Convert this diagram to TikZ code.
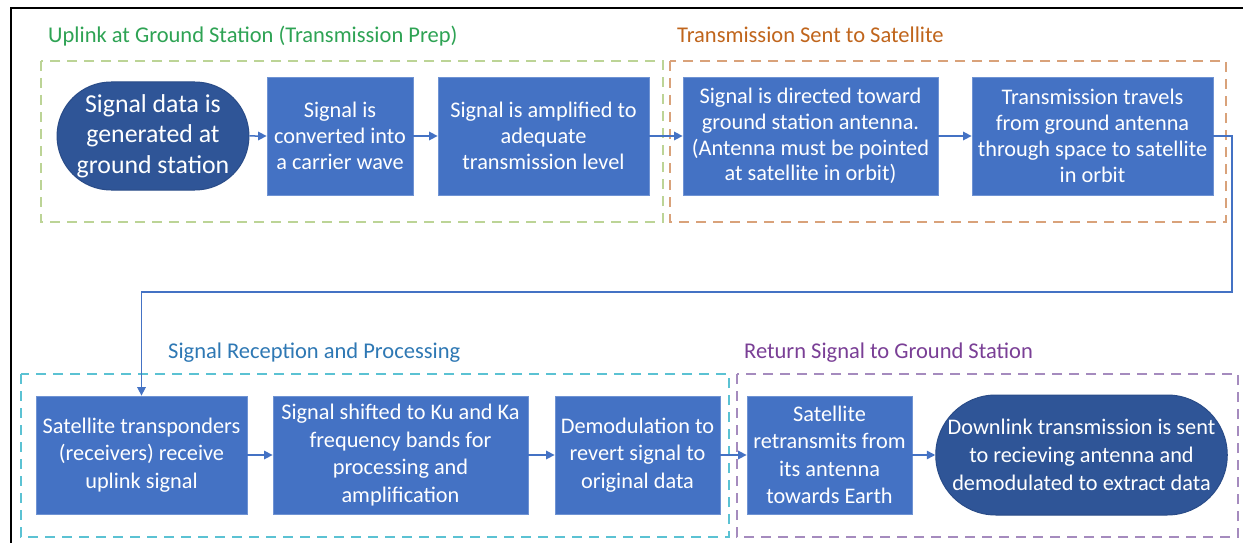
\documentclass[tikz,border=0pt]{standalone}
\usepackage{fontspec}
\setmainfont{Carlito}
\usetikzlibrary{shapes.misc,arrows.meta}
\definecolor{boxblue}{HTML}{4472C4}
\definecolor{boxedge}{HTML}{6F93D3}
\definecolor{termblue}{HTML}{2F5597}
\definecolor{termedge}{HTML}{2A4C88}
\definecolor{flowblue}{HTML}{4472C4}
\definecolor{grpgreen}{HTML}{BCD496}
\definecolor{grporange}{HTML}{D9A27A}
\definecolor{grpcyan}{HTML}{5BC2D3}
\definecolor{grppurple}{HTML}{A58BBE}
\definecolor{ttlgreen}{HTML}{2EA354}
\definecolor{ttlorange}{HTML}{C0651C}
\definecolor{ttlblue}{HTML}{2E78B4}
\definecolor{ttlpurple}{HTML}{7A3F96}
\tikzset{
  stepbox/.style={rectangle, draw=boxedge, line width=0.8pt, fill=boxblue,
    text=white, align=center, inner sep=0pt,
    font=\fontsize{22.3}{25.8}\selectfont},
  lowbox/.style={stepbox, font=\fontsize{22.3}{27.5}\selectfont},
  terminal/.style={rounded rectangle, draw=termedge, line width=1pt, fill=termblue,
    text=white, align=center, inner sep=0pt},
  flow/.style={draw=flowblue, line width=1.5pt,
    -{Triangle[length=8.5pt,width=8.5pt]}},
  group/.style={line width=1.5pt, dash pattern=on 10pt off 7pt},
  grouptitle/.style={anchor=base west, inner sep=0pt,
    font=\fontsize{22.5}{26}\selectfont}
}
\begin{document}
\begin{tikzpicture}[x=1pt,y=-1pt]
\useasboundingbox (0,0) rectangle (1243,543);
\fill[white] (0,0) rectangle (1243,543);
% page frame
\draw[line width=2.5pt] (11,560) -- (11,8) -- (1260,8);

% phase groups
\draw[group, draw=grpgreen]  (41,61)  rectangle (663,222);
\draw[group, draw=grporange] (670,61) rectangle (1226,222);
\draw[group, draw=grpcyan]   (21,374) rectangle (729,537);
\draw[group, draw=grppurple] (737,374) rectangle (1238,537);

\node[grouptitle, text=ttlgreen]  (t1) at (48,43)  {Uplink at Ground Station (Transmission Prep)};
\node[grouptitle, text=ttlorange] (t2) at (677,43) {Transmission Sent to Satellite};
\node[grouptitle, text=ttlblue]   (t3) at (168,358) {Signal Reception and Processing};
\node[grouptitle, text=ttlpurple] (t4) at (744,358) {Return Signal to Ground Station};

% top row
\node[terminal, minimum width=190pt, minimum height=108pt,
      font=\fontsize{25.8}{30.5}\selectfont] (b1) at (153,136)
  {Signal data is\\generated at\\ground station};
\node[stepbox, minimum width=146pt, minimum height=118pt] (b2) at (340,136)
  {Signal is\\converted into\\a carrier wave};
\node[stepbox, minimum width=211pt, minimum height=118pt] (b3) at (543.5,136)
  {Signal is amplified to\\adequate\\transmission level};
\node[stepbox, minimum width=255pt, minimum height=118pt] (b4) at (810.5,136)
  {Signal is directed toward\\ground station antenna.\\(Antenna must be pointed\\at satellite in orbit)};
\node[stepbox, minimum width=241pt, minimum height=118pt] (b5) at (1092.5,136)
  {Transmission travels\\from ground antenna\\through space to satellite\\in orbit};

% bottom row
\node[lowbox, minimum width=211pt, minimum height=118pt] (b6) at (141.5,455)
  {Satellite transponders\\(receivers) receive\\uplink signal};
\node[lowbox, minimum width=255pt, minimum height=118pt] (b7) at (400.5,455)
  {Signal shifted to Ku and Ka\\frequency bands for\\processing and\\amplification};
\node[lowbox, minimum width=165pt, minimum height=118pt] (b8) at (637.5,455)
  {Demodulation to\\revert signal to\\original data};
\node[lowbox, minimum width=165pt, minimum height=118pt] (b9) at (829.5,455)
  {Satellite\\retransmits from\\its antenna\\towards Earth};
\node[terminal, minimum width=287pt, minimum height=120pt,
      font=\fontsize{22.3}{28}\selectfont] (b10) at (1081.5,455)
  {Downlink transmission is sent\\to recieving antenna and\\demodulated to extract data};

% connectors
\draw[flow] (b1) -- (b2);
\draw[flow] (b2) -- (b3);
\draw[flow] (b3) -- (b4);
\draw[flow] (b4) -- (b5);
\coordinate (turn) at (1232,292);
\draw[flow] (b5.east) -| (turn) -| (b6.north);
\draw[flow] (b6) -- (b7);
\draw[flow] (b7) -- (b8);
\draw[flow] (b8) -- (b9);
\draw[flow] (b9) -- (b10);
\end{tikzpicture}
\end{document}
